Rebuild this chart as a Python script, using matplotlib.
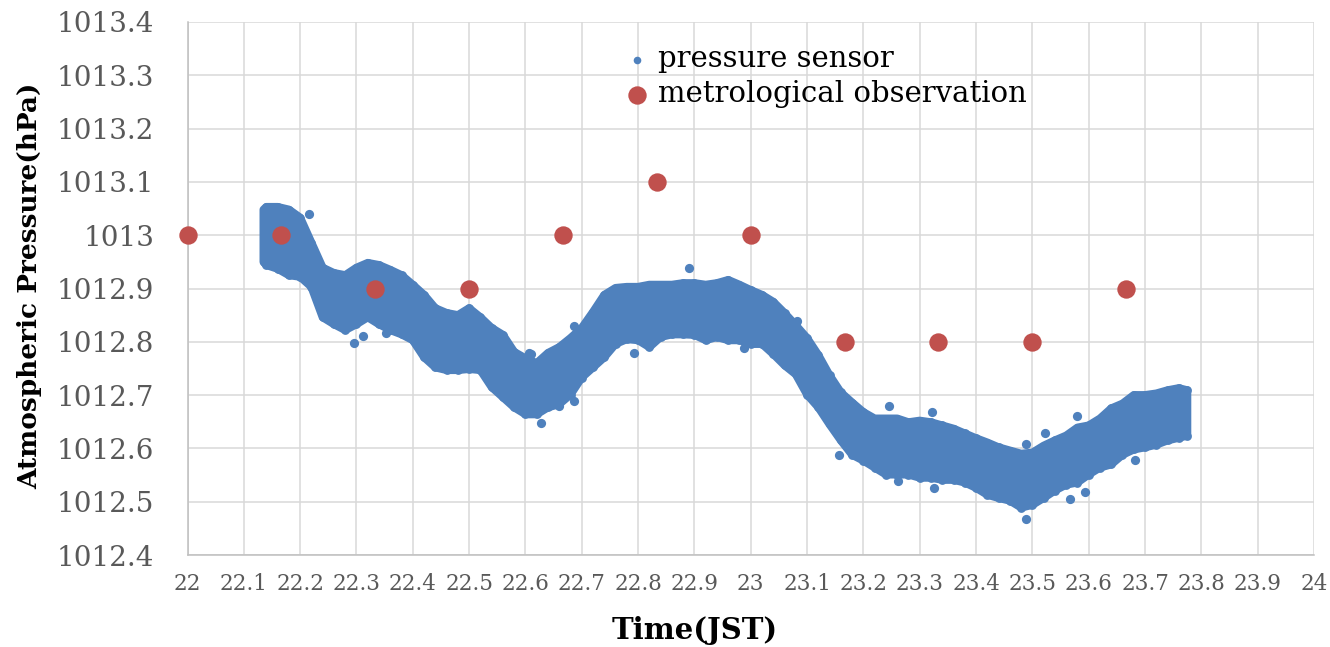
import matplotlib
matplotlib.use("Agg")
import matplotlib.pyplot as plt
import numpy as np

# Pressure sensor record: envelope of the sampled cloud (time in hours JST, hPa)
sensor_time = [22.135, 22.14, 22.16, 22.18, 22.20, 22.22, 22.24, 22.26, 22.28, 22.30,
               22.32, 22.34, 22.36, 22.38, 22.40, 22.42, 22.44, 22.46, 22.48, 22.50,
               22.52, 22.54, 22.56, 22.58, 22.60, 22.62, 22.64, 22.66, 22.68, 22.70,
               22.72, 22.74, 22.76, 22.78, 22.80, 22.82, 22.84, 22.86, 22.88, 22.90,
               22.92, 22.94, 22.96, 22.98, 23.00, 23.02, 23.04, 23.06, 23.08, 23.10,
               23.12, 23.14, 23.16, 23.18, 23.20, 23.22, 23.24, 23.26, 23.28, 23.30,
               23.32, 23.34, 23.36, 23.38, 23.40, 23.42, 23.44, 23.46, 23.48, 23.50,
               23.52, 23.54, 23.56, 23.58, 23.60, 23.62, 23.64, 23.66, 23.68, 23.70,
               23.72, 23.74, 23.76, 23.775]
sensor_high = [1013.048, 1013.053, 1013.053, 1013.048, 1013.033, 1012.986, 1012.939, 1012.929, 1012.925, 1012.939,
               1012.948, 1012.944, 1012.935, 1012.925, 1012.907, 1012.888, 1012.863, 1012.854, 1012.850, 1012.863,
               1012.846, 1012.826, 1012.813, 1012.781, 1012.769, 1012.760, 1012.779, 1012.790, 1012.807, 1012.826,
               1012.856, 1012.888, 1012.901, 1012.903, 1012.903, 1012.907, 1012.907, 1012.907, 1012.910, 1012.910,
               1012.907, 1012.910, 1012.916, 1012.907, 1012.897, 1012.888, 1012.875, 1012.854, 1012.831, 1012.807,
               1012.775, 1012.737, 1012.705, 1012.686, 1012.668, 1012.656, 1012.656, 1012.656, 1012.649, 1012.652,
               1012.649, 1012.643, 1012.637, 1012.628, 1012.619, 1012.611, 1012.602, 1012.596, 1012.590, 1012.592,
               1012.605, 1012.615, 1012.624, 1012.639, 1012.643, 1012.656, 1012.675, 1012.684, 1012.700, 1012.700,
               1012.703, 1012.709, 1012.713, 1012.709]
sensor_low = [1012.950, 1012.944, 1012.937, 1012.925, 1012.922, 1012.903, 1012.846, 1012.833, 1012.822, 1012.833,
              1012.846, 1012.833, 1012.822, 1012.814, 1012.803, 1012.771, 1012.752, 1012.747, 1012.747, 1012.749,
              1012.747, 1012.715, 1012.696, 1012.677, 1012.664, 1012.664, 1012.677, 1012.683, 1012.701, 1012.733,
              1012.752, 1012.771, 1012.796, 1012.805, 1012.803, 1012.790, 1012.809, 1012.814, 1012.814, 1012.813,
              1012.803, 1012.809, 1012.803, 1012.803, 1012.796, 1012.796, 1012.777, 1012.756, 1012.739, 1012.701,
              1012.677, 1012.645, 1012.615, 1012.588, 1012.577, 1012.564, 1012.551, 1012.551, 1012.551, 1012.545,
              1012.545, 1012.541, 1012.541, 1012.536, 1012.526, 1012.513, 1012.507, 1012.502, 1012.489, 1012.494,
              1012.507, 1012.521, 1012.532, 1012.536, 1012.551, 1012.564, 1012.570, 1012.588, 1012.598, 1012.602,
              1012.607, 1012.615, 1012.620, 1012.624]

# Isolated sensor samples lying outside the main band
stray_time = [22.215, 22.295, 22.311, 22.352, 22.607, 22.610, 22.628, 22.660, 22.687, 22.687,
              22.792, 22.891, 22.988, 23.082, 23.157, 23.246, 23.262, 23.322, 23.326, 23.488,
              23.488, 23.523, 23.566, 23.580, 23.593, 23.683]
stray_value = [1013.040, 1012.797, 1012.811, 1012.816, 1012.779, 1012.777, 1012.647, 1012.679, 1012.688, 1012.829,
               1012.779, 1012.939, 1012.788, 1012.839, 1012.588, 1012.679, 1012.538, 1012.669, 1012.526, 1012.609,
               1012.468, 1012.628, 1012.506, 1012.660, 1012.519, 1012.579]

# Meteorological observations (every 10 minutes)
obs_time = [22.0, 22.1667, 22.3333, 22.5, 22.6667, 22.8333, 23.0, 23.1667, 23.3333, 23.5, 23.6667]
obs_value = [1013.0, 1013.0, 1012.9, 1012.9, 1013.0, 1013.1, 1013.0, 1012.8, 1012.8, 1012.8, 1012.9]

x_ticks = [22.0, 22.1, 22.2, 22.3, 22.4, 22.5, 22.6, 22.7, 22.8, 22.9, 23.0,
           23.1, 23.2, 23.3, 23.4, 23.5, 23.6, 23.7, 23.8, 23.9, 24.0]
x_tick_labels = ["22", "22.1", "22.2", "22.3", "22.4", "22.5", "22.6", "22.7", "22.8", "22.9", "23",
                 "23.1", "23.2", "23.3", "23.4", "23.5", "23.6", "23.7", "23.8", "23.9", "24"]
y_ticks = [1012.4, 1012.5, 1012.6, 1012.7, 1012.8, 1012.9, 1013.0, 1013.1, 1013.2, 1013.3, 1013.4]
y_tick_labels = ["1012.4", "1012.5", "1012.6", "1012.7", "1012.8", "1012.9",
                 "1013", "1013.1", "1013.2", "1013.3", "1013.4"]

BLUE = "#4f81bd"
RED = "#c0504d"
GRID = "#d9d9d9"
TICK = "#595959"

plt.rcParams["font.family"] = ["DejaVu Serif"]

fig = plt.figure(figsize=(13.30, 6.47), dpi=100)
ax = fig.add_axes([187.5 / 1330, 1 - 555 / 647, (1314 - 187.5) / 1330, (555 - 22) / 647])

ax.set_xlim(22, 24)
ax.set_ylim(1012.4, 1013.4)
ax.set_xticks(x_ticks)
ax.set_xticklabels(x_tick_labels)
ax.set_yticks(y_ticks)
ax.set_yticklabels(y_tick_labels)
ax.tick_params(axis="both", length=0, colors=TICK)
ax.tick_params(axis="x", labelsize=15.5, pad=13)
ax.tick_params(axis="y", labelsize=20, pad=24)

ax.grid(True, color=GRID, linewidth=1.1)
ax.set_axisbelow(True)
for side in ("top", "right"):
    ax.spines[side].set_visible(False)
for side in ("left", "bottom"):
    ax.spines[side].set_color("#bfbfbf")
    ax.spines[side].set_linewidth(1.1)

# Sensor cloud: filled envelope, outlined with a marker-wide round stroke
poly_x = np.concatenate([sensor_time, sensor_time[::-1]])
poly_y = np.concatenate([sensor_high, sensor_low[::-1]])
ax.fill(poly_x, poly_y, facecolor=BLUE, edgecolor=BLUE, linewidth=5.8,
        joinstyle="round", zorder=2)
ax.scatter(sensor_time + sensor_time, sensor_high + sensor_low, s=40, color=BLUE,
           linewidths=0, zorder=2)
ax.scatter(stray_time, stray_value, s=44, color=BLUE, linewidths=0, zorder=2)

# Observation points
ax.scatter(obs_time, obs_value, s=175, color=RED, linewidths=0, zorder=3, clip_on=False)

# Legend
h1 = ax.scatter([], [], s=30, color=BLUE, linewidths=0, label="pressure sensor")
h2 = ax.scatter([], [], s=175, color=RED, linewidths=0, label="metrological observation")
ax.legend(handles=[h1, h2], loc="upper left", bbox_to_anchor=(0.376, 0.978),
          frameon=False, fontsize=21, handletextpad=0.22, labelspacing=0.24,
          borderaxespad=0, handlelength=1.0, scatterpoints=1)

ax.set_xlabel("Time(JST)", fontsize=21, fontweight="bold", color="black", va="center")
ax.xaxis.set_label_coords(0.45, -0.141)
ax.set_ylabel("Atmospheric Pressure(hPa)", fontsize=19, fontweight="bold", color="black", va="center")
ax.yaxis.set_label_coords(-0.1398, 0.505)

fig.savefig("out.png", dpi=100, facecolor="white")
